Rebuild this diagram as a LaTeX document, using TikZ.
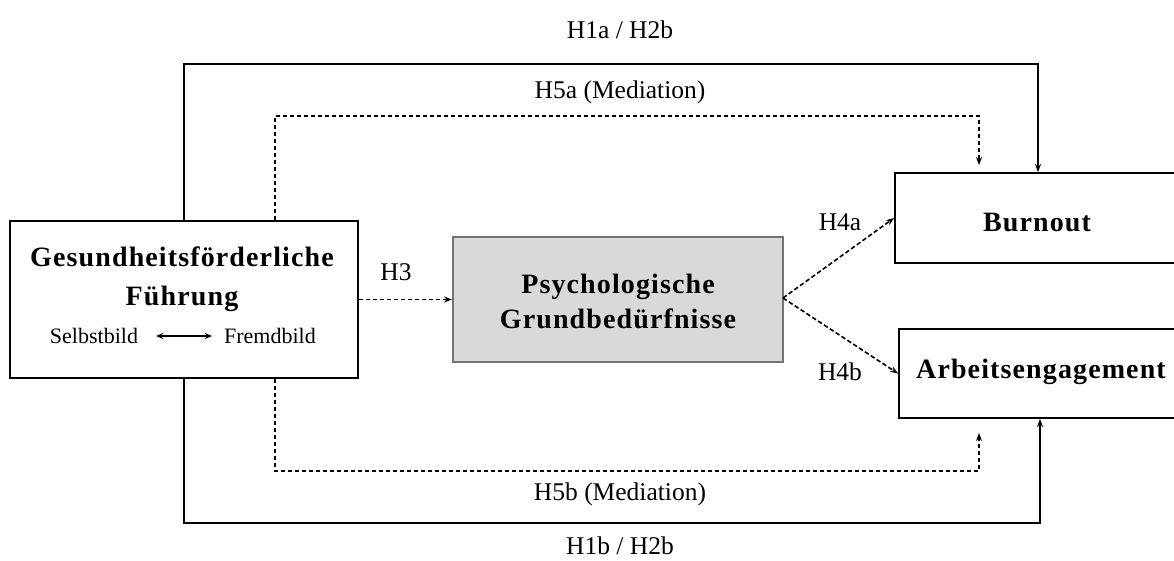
\documentclass[tikz,border=0pt]{standalone}
\usepackage{fontspec}
\setmainfont{Liberation Serif}
\newfontfamily\titlefont[LetterSpace=4]{Liberation Serif}
\usetikzlibrary{arrows.meta,calc}
\begin{document}
\begin{tikzpicture}[x=1pt,y=-1pt,
  box/.style={draw=black,line width=1.9pt,inner sep=0pt},
  greybox/.style={draw=black!55,fill=black!15,line width=1.9pt,inner sep=0pt},
  title/.style={font=\titlefont\bfseries\fontsize{28}{35}\selectfont,align=center,inner sep=0pt},
  lbl/.style={font=\fontsize{25.5}{28}\selectfont,inner sep=0pt},
  sub/.style={font=\fontsize{22}{26}\selectfont,inner sep=0pt},
  tip/.style={-{Stealth[length=8pt,width=6pt]}},
  direct/.style={line width=1.7pt,tip},
  indirect/.style={line width=1.6pt,tip,dash pattern=on 4.5pt off 2.5pt},
]
\useasboundingbox (0,0) rectangle (1174,560);

% boxes
\node[box,minimum width=348pt,minimum height=157pt] (L) at (184,299.5) {};
\node[greybox,minimum width=330pt,minimum height=125pt] (G) at (618,299.5) {};
\node[box,minimum width=289pt,minimum height=90pt] (B) at (1039.5,218) {};
\node[box,minimum width=285pt,minimum height=89pt] (A) at (1041.5,373.5) {};

% box texts
\node[title,font=\titlefont\bfseries\fontsize{28}{39}\selectfont] (Lt) at (182,279) {Gesundheitsförderliche\\Führung};
\node[sub] (sb) at (94,336) {Selbstbild};
\node[sub] (fb) at (270,336) {Fremdbild};
\node[title] (Gt) at (618,301) {Psychologische\\Grundbedürfnisse};
\node[title] (Bt) at (1037,222) {Burnout};
\node[title] (At) at (1041,372) {Arbeitsengagement};

\draw[line width=1.5pt,shorten <=18pt,shorten >=12pt,
  {Stealth[length=7pt,width=6pt]}-{Stealth[length=7pt,width=6pt]}]
  (sb.east) -- (fb.west);

% hypothesis labels
\node[lbl] (h1a) at (620,30) {H1a / H2b};
\node[lbl] (h5a) at (620,92) {H5a (Mediation)};
\node[lbl] (h3) at (396,272) {H3};
\node[lbl] (h4a) at (840,222) {H4a};
\node[lbl] (h4b) at (840,372) {H4b};
\node[lbl] (h5b) at (620,494) {H5b (Mediation)};
\node[lbl] (h1b) at (620,546) {H1b / H2b};

% routing corners
\coordinate (t1) at (1038,64);
\coordinate (t2) at (979,116);
\coordinate (b1) at (1040,523);
\coordinate (b2) at (979,471);
\coordinate (Ld) at (275,0);
\coordinate (Gout) at (783,298);

% direct effects
\draw[direct] (L.north) |- (t1) -- (t1 |- B.north);
\draw[direct] (L.south) |- (b1) -- (b1 |- A.south);

% mediated effects
\draw[indirect,shorten >=7pt] (Ld |- L.north) |- (t2) -- (t2 |- B.north);
\draw[indirect,shorten >=14pt] (Ld |- L.south) |- (b2) -- (b2 |- A.south);

% paths through the mediator
\draw[indirect] (L.east) -- (L.east -| G.west);
\draw[indirect] (Gout) -- (B.west);
\draw[indirect] (Gout) -- (A.west);
\end{tikzpicture}
\end{document}
